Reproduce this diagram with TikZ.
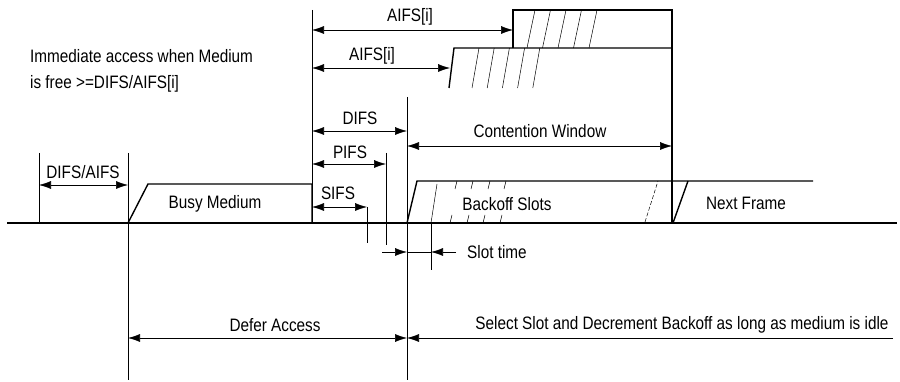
\documentclass[tikz,border=0pt]{standalone}
\usepackage{fontspec}
\setmainfont{Liberation Sans}[FakeStretch=0.85]
\usepackage{tikz}
\usetikzlibrary{arrows.meta}
\tikzset{
  lbl/.style={inner sep=1pt, font=\fontsize{18}{26}\selectfont},
  boxline/.style={line width=1.4pt, line join=miter},
  medium/.style={line width=1.4pt},
  guide/.style={line width=0.5pt},
  hatch/.style={line width=0.5pt},
  dimarr/.style={{Latex[length=12pt,width=8pt]}-{Latex[length=12pt,width=8pt]}, line width=0.6pt},
  onearr/.style={-{Latex[length=12pt,width=8pt]}, line width=0.6pt},
}
\begin{document}
\begin{tikzpicture}[x=1pt, y=-1pt]
  \useasboundingbox (0,0) rectangle (900,382);

  % time line
  \coordinate (t0) at (7,223);
  \coordinate (t1) at (897,223);
  \draw[medium] (t0) -- (t1);

  % vertical markers
  \coordinate (gA1) at (39,153);   \coordinate (gA2) at (39,223);
  \coordinate (gB1) at (128,153);  \coordinate (gB2) at (128,380);
  \coordinate (gC1) at (312,10);   \coordinate (gC2) at (312,223);
  \coordinate (gD1) at (407,97);   \coordinate (gD2) at (407,380);
  \coordinate (gP1) at (386,153);  \coordinate (gP2) at (386,245);
  \coordinate (gS1) at (367,207);  \coordinate (gS2) at (367,243);
  \coordinate (gT1) at (431,223);  \coordinate (gT2) at (431,270);
  \draw[guide] (gA1) -- (gA2);
  \draw[guide] (gB1) -- (gB2);
  \draw[guide] (gC1) -- (gC2);
  \draw[guide] (gD1) -- (gD2);
  \draw[guide] (gP1) -- (gP2);
  \draw[guide] (gS1) -- (gS2);
  \draw[guide] (gT1) -- (gT2);

  % busy medium
  \draw[boxline] (128,223) -- (148,184) -- (312,184) -- (312,223);
  \node[lbl] (busy) at (215,204) {Busy Medium};

  % contention window frames
  \draw[boxline] (513,48) -- (513,10) -- (672,10) -- (672,223);
  \draw[boxline] (449,88) -- (454,48) -- (672,48);
  \foreach \i in {0,...,4} {
    \draw[hatch] (527+15.5*\i,48) -- (535+15.5*\i,10);
    \draw[hatch] (472+15.2*\i,88) -- (479+15.2*\i,48);
  }

  % backoff slots and next frame
  \draw[boxline] (407,223) -- (417,181) -- (813,181);
  \draw[boxline] (673,223) -- (688,181);
  \draw[hatch] (431,223) -- (437,184);
  \draw[hatch, dash pattern=on 4pt off 2pt] (645,222) -- (658,181);
  \foreach \x in {457,473,490,506} \draw[hatch] (\x,181) -- (\x-2,189);
  \foreach \x in {450,467,483,500} \draw[hatch] (\x+2,215) -- (\x,223);
  \node[lbl] (backoff) at (507,204) {Backoff Slots};
  \node[lbl] (next) at (746,203) {Next Frame};

  % interframe spaces
  \coordinate (da1) at (39,185);   \coordinate (da2) at (128,185);
  \draw[dimarr] (da1) -- (da2);
  \node[lbl] (difsaifs) at (83,172) {DIFS/AIFS};

  \coordinate (ai1) at (312,30);   \coordinate (ai2) at (513,30);
  \draw[dimarr] (ai1) -- (ai2);
  \node[lbl] (aifsA) at (410,17) {AIFS[i]};

  \coordinate (aj1) at (312,68);   \coordinate (aj2) at (450,68);
  \draw[dimarr] (aj1) -- (aj2);
  \node[lbl] (aifsB) at (372,56) {AIFS[i]};

  \coordinate (di1) at (312,131);  \coordinate (di2) at (407,131);
  \draw[dimarr] (di1) -- (di2);
  \node[lbl] (difs) at (360,118) {DIFS};

  \coordinate (cw1) at (407,146);  \coordinate (cw2) at (672,146);
  \draw[dimarr] (cw1) -- (cw2);
  \node[lbl] (cw) at (540,131) {Contention Window};

  \coordinate (pi1) at (312,164);  \coordinate (pi2) at (386,164);
  \draw[dimarr] (pi1) -- (pi2);
  \node[lbl] (pifs) at (350,152) {PIFS};

  \coordinate (si1) at (312,207);  \coordinate (si2) at (367,207);
  \draw[dimarr] (si1) -- (si2);
  \node[lbl] (sifs) at (338,193) {SIFS};

  % slot time
  \coordinate (st0) at (382,252);  \coordinate (st1) at (407,252);
  \coordinate (st2) at (431,252);  \coordinate (st3) at (456,252);
  \draw[onearr] (st0) -- (st1);
  \draw[guide] (st1) -- (st2);
  \draw[onearr] (st3) -- (st2);
  \node[lbl, anchor=west] (slot) at (466,252) {Slot time};

  % defer / select
  \coordinate (de1) at (128,338);  \coordinate (de2) at (407,338);
  \draw[dimarr] (de1) -- (de2);
  \node[lbl] (defer) at (275,325) {Defer Access};
  \coordinate (se1) at (893,338);
  \draw[onearr] (se1) -- (de2);
  \node[lbl] (select) at (682,325) {Select Slot and Decrement Backoff as long as medium is idle};

  \node[lbl, anchor=west, align=left] (immed) at (29,71)
    {Immediate access when Medium\\is free >=DIFS/AIFS[i]};
\end{tikzpicture}
\end{document}
